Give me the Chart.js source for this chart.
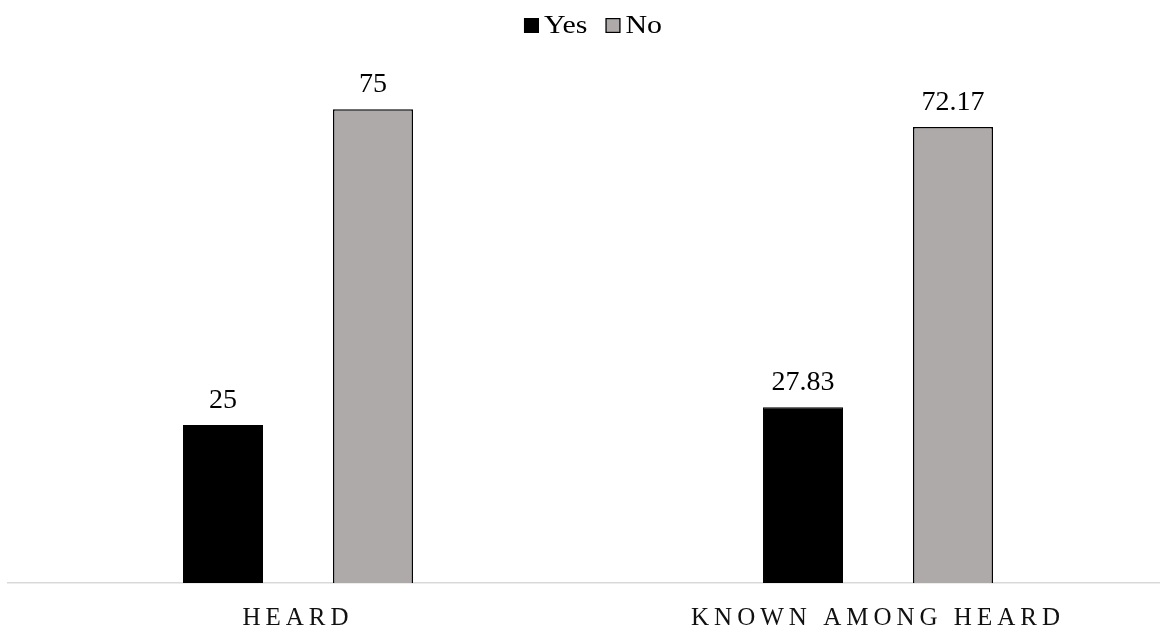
<!DOCTYPE html>
<html>
<head>
<meta charset="utf-8">
<script src="https://cdn.jsdelivr.net/npm/chart.js@4/dist/chart.umd.min.js"></script>
<style>
  html, body { margin: 0; padding: 0; background: #ffffff; overflow: hidden; }
  #wrap { width: 1168px; height: 632px; position: relative; }
</style>
</head>
<body>
<div id="wrap"><canvas id="chart"></canvas></div>
<script>
// Survey answers, in percent
const categories = ['HEARD', 'KNOWN AMONG HEARD'];
const seriesNames = ['Yes', 'No'];
const yesValues = [25, 27.83];
const noValues = [75, 72.17];

const SERIF = '"Liberation Serif", "Times New Roman", serif';
const YES_FILL = '#000000';
const NO_FILL = '#aeaaaa';

// Value labels above each bar, then letter spacing for the category axis
const barLabels = {
  id: 'barLabels',
  afterDatasetsDraw(chart) {
    const ctx = chart.ctx;
    ctx.save();
    ctx.letterSpacing = '0px';
    ctx.font = '28px ' + SERIF;
    ctx.fillStyle = '#000';
    ctx.textAlign = 'center';
    ctx.textBaseline = 'alphabetic';
    chart.data.datasets.forEach((ds, i) => {
      chart.getDatasetMeta(i).data.forEach((bar, j) => {
        ctx.fillText(String(ds.data[j]), bar.x, bar.y - 17);
      });
    });
    ctx.restore();
    // the x tick labels are drawn in a later layer (ticks.z = 1)
    ctx.letterSpacing = '5px';
  },
  afterDraw(chart) {
    chart.ctx.letterSpacing = '0px';
  }
};

// Compact legend centred at the top: square swatch followed by the series name
const topLegend = {
  id: 'topLegend',
  afterDraw(chart) {
    const ctx = chart.ctx;
    const ds = chart.data.datasets;
    const box = 15, gapText = 5, gapItem = 18, stretch = 1.15, y = 18, centre = 593;
    ctx.save();
    ctx.letterSpacing = '0px';
    ctx.font = '26px ' + SERIF;
    const widths = ds.map(d => ctx.measureText(d.label).width * stretch);
    let total = 0;
    widths.forEach((w, i) => { total += box + gapText + w + (i ? gapItem : 0); });
    let x = centre - total / 2;
    ds.forEach((d, i) => {
      ctx.fillStyle = d.backgroundColor;
      ctx.fillRect(x, y, box, box);
      ctx.lineWidth = 1.2;
      ctx.strokeStyle = '#000';
      ctx.strokeRect(x + 0.6, y + 0.6, box - 1.2, box - 1.2);
      x += box + gapText;
      ctx.save();
      ctx.translate(x, y + box);
      ctx.scale(stretch, 1);
      ctx.fillStyle = '#000';
      ctx.textAlign = 'left';
      ctx.textBaseline = 'alphabetic';
      ctx.fillText(d.label, 0, 0);
      ctx.restore();
      x += widths[i] + gapItem;
    });
    ctx.restore();
  }
};

new Chart(document.getElementById('chart'), {
  type: 'bar',
  data: {
    labels: categories,
    datasets: [
      {
        label: seriesNames[0],
        data: yesValues,
        backgroundColor: YES_FILL,
        borderColor: '#000',
        borderWidth: 1,
        categoryPercentage: 0.5172,
        barPercentage: 0.5333
      },
      {
        label: seriesNames[1],
        data: noValues,
        backgroundColor: NO_FILL,
        borderColor: '#000',
        borderWidth: 1.5,
        categoryPercentage: 0.5172,
        barPercentage: 0.5333
      }
    ]
  },
  options: {
    responsive: true,
    maintainAspectRatio: false,
    animation: false,
    devicePixelRatio: 1,
    layout: { padding: { top: 46, left: 8, right: 0, bottom: 0 } },
    plugins: {
      legend: { display: false },
      tooltip: { enabled: false },
      title: { display: false }
    },
    scales: {
      x: {
        grid: { display: false, drawTicks: false },
        border: { display: true, color: '#d9d9d9', width: 1.5 },
        ticks: {
          z: 1,
          color: '#111',
          font: { family: SERIF, size: 25 },
          padding: 20,
          maxRotation: 0,
          autoSkip: false
        },
        afterFit(scale) { scale.height = 49; }
      },
      y: {
        display: false,
        min: 0,
        max: 85
      }
    }
  },
  plugins: [barLabels, topLegend]
});
</script>
</body>
</html>
